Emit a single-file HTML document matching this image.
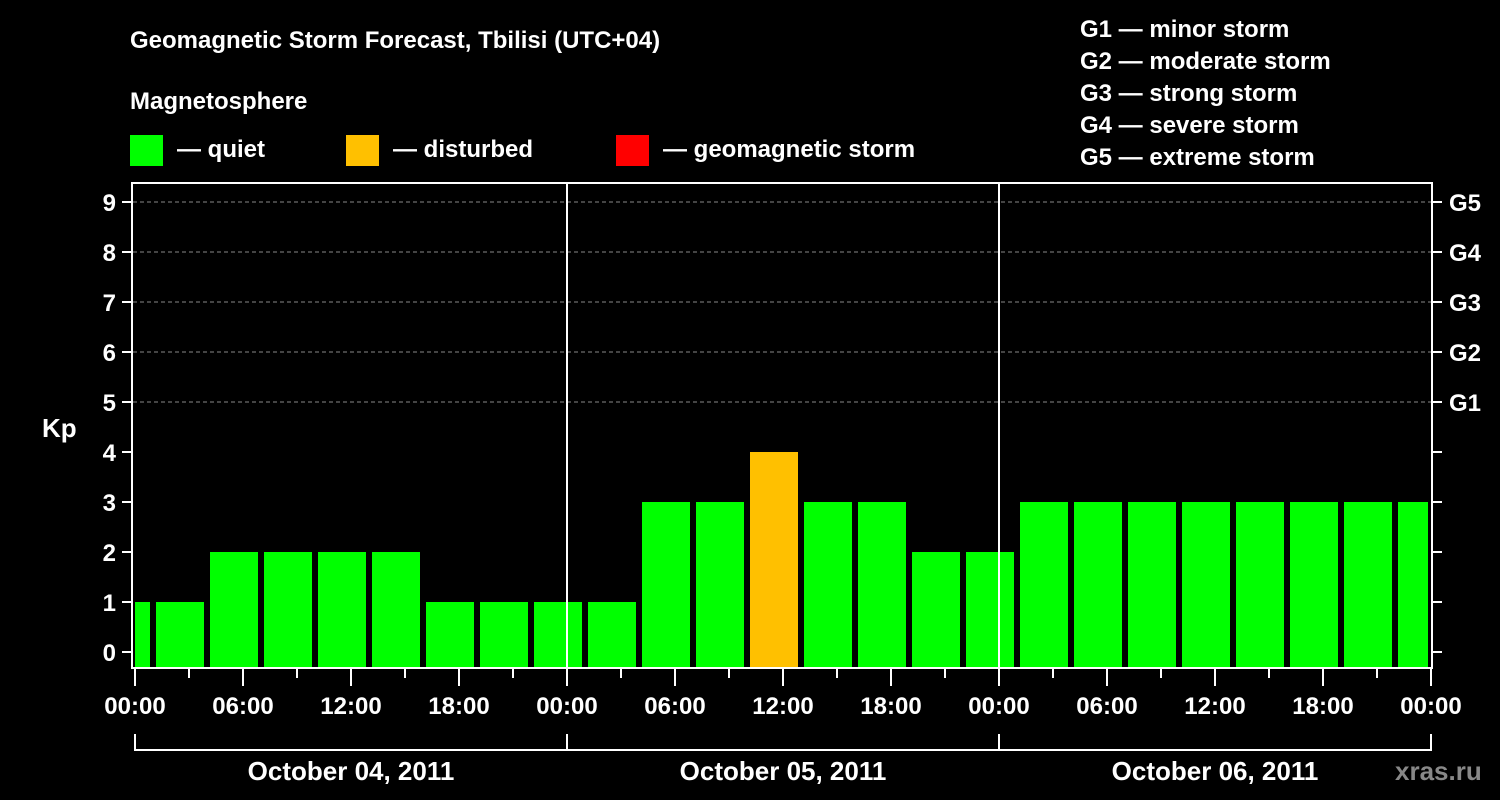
<!DOCTYPE html>
<html><head><meta charset="utf-8"><style>
html,body{margin:0;padding:0;background:#000;width:1500px;height:800px;overflow:hidden}
svg{display:block}
text{font-family:"Liberation Sans",Arial,sans-serif;font-weight:bold;fill:#fff}
</style></head><body>
<svg id="chart" width="1500" height="800" viewBox="0 0 1500 800" xmlns="http://www.w3.org/2000/svg">
<text x="130" y="48" font-size="24">Geomagnetic Storm Forecast, Tbilisi (UTC+04)</text>
<text x="130" y="109" font-size="24">Magnetosphere</text>
<g><rect x="130" y="135" width="33" height="31" fill="#00ff00"/><text x="177" y="157" font-size="24">— quiet</text></g>
<g><rect x="346" y="135" width="33" height="31" fill="#ffc000"/><text x="393" y="157" font-size="24">— disturbed</text></g>
<g><rect x="616" y="135" width="33" height="31" fill="#ff0000"/><text x="663" y="157" font-size="24">— geomagnetic storm</text></g>
<g font-size="24">
<text x="1080" y="37">G1 — minor storm</text>
<text x="1080" y="69">G2 — moderate storm</text>
<text x="1080" y="101">G3 — strong storm</text>
<text x="1080" y="133">G4 — severe storm</text>
<text x="1080" y="165">G5 — extreme storm</text>
</g>
<g id="grid"></g>
<g id="bars"></g>
<g id="axes"></g>
<text x="42" y="437" font-size="26">Kp</text>
<text x="1395" y="780" font-size="26" style="fill:#888">xras.ru</text>
</svg>
<script>
const kpValues=[1,1,2,2,2,2,1,1,1,1,3,3,4,3,3,2,2,3,3,3,3,3,3,3,3];
const slotStartHours=[-2,1,4,7,10,13,16,19,22,25,28,31,34,37,40,43,46,49,52,55,58,61,64,67,70];
const yTicks=[0,1,2,3,4,5,6,7,8,9];
const gLabels=["G1","G2","G3","G4","G5"];
const gLevels=[5,6,7,8,9];
const xTickLabels=["00:00","06:00","12:00","18:00","00:00","06:00","12:00","18:00","00:00","06:00","12:00","18:00","00:00"];
const dayLabels=["October 04, 2011","October 05, 2011","October 06, 2011"];
const NS="http://www.w3.org/2000/svg";
const L=133,R=1431,T=183,B=668;
const x0=135,pxPerHour=18;
function xs(h){return x0+h*pxPerHour;}
function ys(v){return 652-v*50;}
function mk(tag,attrs,parent){const e=document.createElementNS(NS,tag);for(const k in attrs)e.setAttribute(k,attrs[k]);parent.appendChild(e);return e;}
const grid=document.getElementById('grid'),bars=document.getElementById('bars'),axes=document.getElementById('axes');
gLevels.forEach(v=>{const l=mk('line',{x1:L,x2:R,y1:ys(v),y2:ys(v),stroke:'#888','stroke-dasharray':'4,3','stroke-width':1},grid);

});
kpValues.forEach((v,i)=>{
 let a=xs(slotStartHours[i])+3,b=a+48;
 a=Math.max(a,L+2);b=Math.min(b,R-3);
 const r=mk('rect',{x:a,y:ys(v),width:b-a,height:B-ys(v),fill:v>=5?'#ff0000':(v>=4?'#ffc000':'#00ff00')},bars);
 
 
});
// frame
const fr=mk('rect',{x:132,y:183,width:1300,height:485,fill:'none',stroke:'#fff','stroke-width':2},axes);


[1,2].forEach(d=>{const l=mk('line',{x1:xs(24*d),x2:xs(24*d),y1:T,y2:B,stroke:'#fff','stroke-width':2},axes);

});
yTicks.forEach(v=>{
 mk('line',{x1:122,x2:132,y1:ys(v),y2:ys(v),stroke:'#fff','stroke-width':2},axes);
 mk('line',{x1:1432,x2:1442,y1:ys(v),y2:ys(v),stroke:'#fff','stroke-width':2},axes);
 const t=mk('text',{x:116,y:ys(v)+9,'text-anchor':'end','font-size':24},axes);t.textContent=v;
 
 
});
gLabels.forEach((g,i)=>{const t=mk('text',{x:1449,y:ys(gLevels[i])+9,'font-size':24},axes);t.textContent=g;
 
 });
for(let h=0;h<=72;h+=3){const major=h%6===0;
 mk('line',{x1:xs(h),x2:xs(h),y1:669,y2:major?686:678,stroke:'#fff','stroke-width':2},axes);}
xTickLabels.forEach((s,i)=>{const t=mk('text',{x:xs(i*6),y:714,'text-anchor':'middle','font-size':24},axes);t.textContent=s;
 
 });
mk('path',{d:`M${xs(0)},734 V750 H${xs(72)} V734 M${xs(24)},734 V750 M${xs(48)},734 V750`,stroke:'#fff','stroke-width':2,fill:'none'},axes);
dayLabels.forEach((s,i)=>{const t=mk('text',{x:xs(24*i+12),y:780,'text-anchor':'middle','font-size':26},axes);t.textContent=s;
 
 });
</script>
</body></html>
